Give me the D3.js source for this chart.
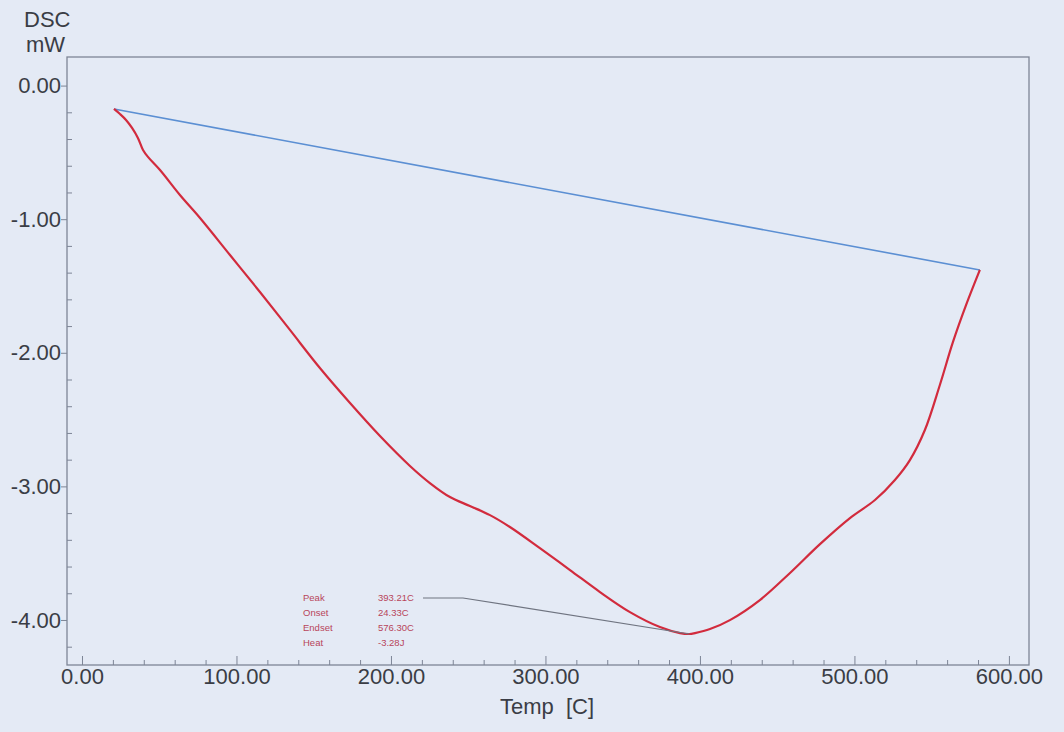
<!DOCTYPE html>
<html>
<head>
<meta charset="utf-8">
<script src="https://cdn.jsdelivr.net/npm/d3@7"></script>
<style>
  body { margin: 0; background: #e4eaf5; }
  svg { display: block; }
  .tick text { font-family: "Liberation Sans", Arial, sans-serif; }
</style>
</head>
<body>
<div id="chart"></div>
<script>

/* DSC CURVE */

var temps = [20.7, 24.6, 28.5, 32.4, 36.2, 39.5, 42.7, 50.5, 63.4, 76.4, 95.8, 115.2, 134.6,
             154.0, 173.5, 192.9, 212.3, 225.2, 238.2, 251.1, 264.1, 277.0, 296.4, 315.9,
             335.3, 354.7, 374.1, 387.1, 393.2, 396.8, 406.5, 419.4, 438.8, 458.3, 477.7,
             497.1, 513.3, 526.2, 535.9, 545.6, 555.3, 563.8, 572.3, 581.2];
var dscValues = [-0.175, -0.213, -0.257, -0.317, -0.392, -0.482, -0.534, -0.632, -0.819, -0.991,
                 -1.268, -1.545, -1.829, -2.114, -2.376, -2.623, -2.847, -2.975, -3.080, -3.147,
                 -3.215, -3.304, -3.462, -3.626, -3.791, -3.941, -4.053, -4.098, -4.105, -4.098,
                 -4.068, -4.001, -3.851, -3.648, -3.432, -3.237, -3.102, -2.952, -2.803, -2.578,
                 -2.241, -1.919, -1.642, -1.380];

// baseline drawn between onset-side and endset-side points
var baseTemps = [20.7, 581.2];
var baseValues = [-0.175, -1.380];

var xTicks = [0, 100, 200, 300, 400, 500, 600];
var yTicks = [0, -1, -2, -3, -4];

var annLabels = ["Peak", "Onset", "Endset", "Heat"];
var annValues = ["393.21C", "24.33C", "576.30C", "-3.28J"];
var peakTemp = 393.21;
var peakValue = -4.105;

function drawDSC(){

  var w = 1064;
  var h = 732;

  var svg = d3.select("#chart").append("svg")
              .attr("width", w)
              .attr("height", h);

  var x = d3.scaleLinear().domain([-9.7, 613]).range([67, 1029]);
  var y = d3.scaleLinear().domain([0.214, -4.337]).range([57, 665]);

  var loc = d3.formatLocale({decimal: ".", thousands: ",", grouping: [3], currency: ["", ""], minus: "-"});
  var fmt = loc.format(".2f");

  var axisColor = "#7d8596";
  var textColor = "#3a3d45";

  // frame
  svg.append("rect")
     .attr("x", x.range()[0])
     .attr("y", y.range()[0])
     .attr("width", x.range()[1] - x.range()[0])
     .attr("height", y.range()[1] - y.range()[0])
     .attr("fill", "none")
     .attr("stroke", axisColor)
     .attr("stroke-width", 1.3);

  // x axis: minor and major ticks pointing inward
  var xMinor = d3.range(0, 601, 20).filter(function(d){ return d % 100 !== 0; });
  svg.append("g")
     .attr("transform", "translate(0," + y.range()[1] + ")")
     .call(d3.axisTop(x).tickValues(xMinor).tickSize(5).tickFormat(""))
     .call(function(g){ g.select(".domain").remove(); g.selectAll("line").attr("stroke", axisColor); });

  svg.append("g")
     .attr("transform", "translate(0," + y.range()[1] + ")")
     .call(d3.axisTop(x).tickValues(xTicks).tickSize(9).tickFormat(""))
     .call(function(g){ g.select(".domain").remove(); g.selectAll("line").attr("stroke", axisColor); });

  svg.append("g")
     .attr("transform", "translate(0," + y.range()[1] + ")")
     .call(d3.axisBottom(x).tickValues(xTicks).tickSize(0).tickPadding(3).tickFormat(fmt))
     .call(function(g){
       g.select(".domain").remove();
       g.selectAll("text").attr("font-size", 22).attr("fill", textColor).attr("dy", "0.72em");
     });

  // y axis
  var yMinor = d3.range(1, 22).map(function(d){ return -d * 0.2; })
                 .filter(function(d){ return Math.abs(d - Math.round(d)) > 0.01; });
  svg.append("g")
     .attr("transform", "translate(" + x.range()[0] + ",0)")
     .call(d3.axisRight(y).tickValues(yMinor).tickSize(5).tickFormat(""))
     .call(function(g){ g.select(".domain").remove(); g.selectAll("line").attr("stroke", axisColor); });

  svg.append("g")
     .attr("transform", "translate(" + x.range()[0] + ",0)")
     .call(d3.axisLeft(y).tickValues(yTicks).tickSize(6).tickPadding(0).tickFormat(fmt))
     .call(function(g){
       g.select(".domain").remove();
       g.selectAll("line").attr("stroke", axisColor);
       g.selectAll("text").attr("font-size", 22).attr("fill", textColor);
     });

  // axis titles
  svg.append("text")
     .attr("x", 24).attr("y", 27)
     .attr("font-family", "Liberation Sans, Arial, sans-serif")
     .attr("font-size", 22)
     .attr("fill", textColor)
     .text("DSC");
  svg.append("text")
     .attr("x", 26).attr("y", 52)
     .attr("font-family", "Liberation Sans, Arial, sans-serif")
     .attr("font-size", 22)
     .attr("fill", textColor)
     .text("mW");
  svg.append("text")
     .attr("x", 547).attr("y", 714)
     .attr("text-anchor", "middle")
     .attr("font-family", "Liberation Sans, Arial, sans-serif")
     .attr("font-size", 22)
     .attr("fill", textColor)
     .attr("xml:space", "preserve")
     .text("Temp  [C]");

  // baseline
  var baseData = baseTemps.map(function(t, i){ return [t, baseValues[i]]; });
  svg.append("path")
     .datum(baseData)
     .attr("fill", "none")
     .attr("stroke", "#5b8fd3")
     .attr("stroke-width", 1.6)
     .attr("d", d3.line().x(function(d){ return x(d[0]); }).y(function(d){ return y(d[1]); }));

  // DSC curve
  var curveData = temps.map(function(t, i){ return [t, dscValues[i]]; });
  svg.append("path")
     .datum(curveData)
     .attr("fill", "none")
     .attr("stroke", "#d22b3d")
     .attr("stroke-width", 2.2)
     .attr("stroke-linejoin", "round")
     .attr("d", d3.line().curve(d3.curveCatmullRom.alpha(0.5))
                  .x(function(d){ return x(d[0]); }).y(function(d){ return y(d[1]); }));

  // peak annotation
  var ann = svg.append("g")
               .attr("font-family", "Liberation Sans, Arial, sans-serif")
               .attr("font-size", 9.5)
               .attr("fill", "#b8455a");

  ann.selectAll("text.lab")
     .data(annLabels)
     .enter().append("text")
     .attr("class", "lab")
     .attr("x", 303)
     .attr("y", function(d, i){ return 601 + i * 15; })
     .text(function(d){ return d; });

  ann.selectAll("text.val")
     .data(annValues)
     .enter().append("text")
     .attr("class", "val")
     .attr("x", 378)
     .attr("y", function(d, i){ return 601 + i * 15; })
     .text(function(d){ return d; });

  svg.append("path")
     .attr("fill", "none")
     .attr("stroke", "#6f7480")
     .attr("stroke-width", 1.2)
     .attr("d", d3.line()([[423, 598], [463, 598], [x(peakTemp), y(peakValue)]]));

};

drawDSC();

</script>
</body>
</html>
